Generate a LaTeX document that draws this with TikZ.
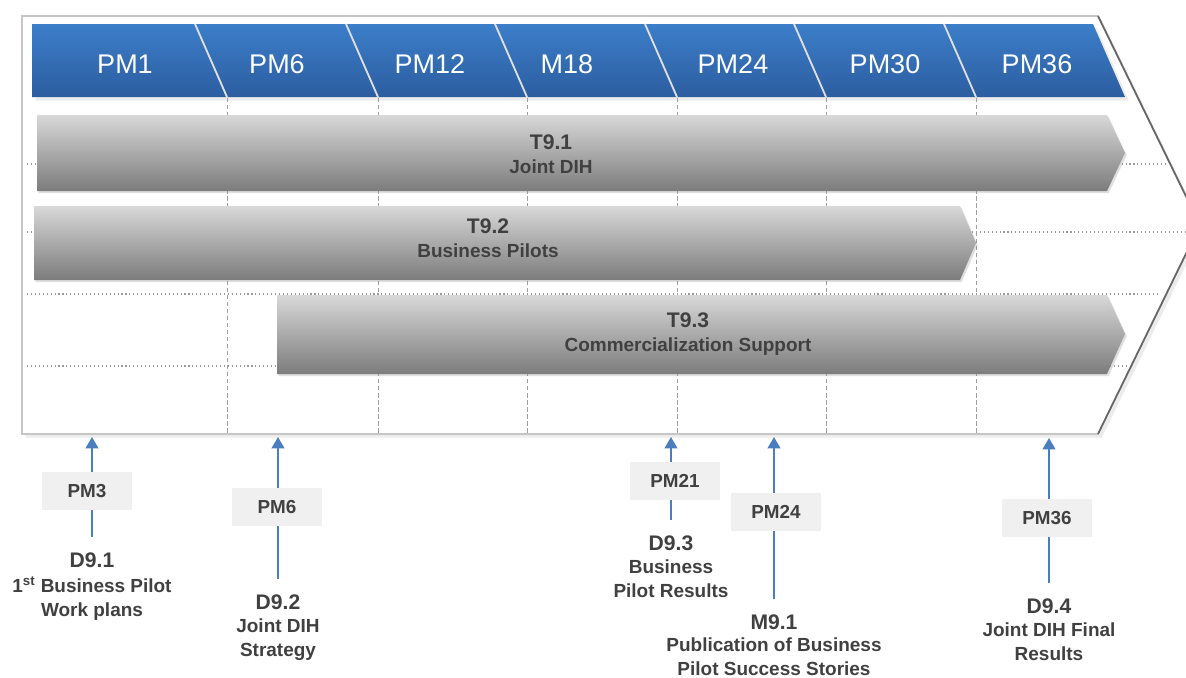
\documentclass[tikz,border=0pt]{standalone}
\usepackage{fontspec}
\setmainfont{Liberation Sans}
\usetikzlibrary{positioning,shadows,arrows.meta}

\definecolor{headtop}{RGB}{60,126,201}
\definecolor{headbot}{RGB}{44,93,160}
\definecolor{bartop}{RGB}{216,216,216}
\definecolor{barbot}{RGB}{124,124,124}
\definecolor{txtgray}{RGB}{64,64,64}
\definecolor{arrowblue}{RGB}{74,126,190}
\definecolor{boxgray}{RGB}{240,240,240}

\begin{document}
\begin{tikzpicture}[x=0.025cm,y=-0.025cm]
	\tikzset{
		myframe/.style={fill=white, draw=gray!45, line width=1.2pt},
		myhead/.style={text=white, font=\fontsize{19.2}{22}\selectfont},
		mybar/.style={top color=bartop, bottom color=barbot, drop shadow={opacity=0.25, shadow xshift=1.2pt, shadow yshift=-1.5pt}},
		mybartext/.style={align=center, text=txtgray, font=\fontsize{13.5}{17}\selectfont\bfseries},
		mybox/.style={fill=boxgray, text=txtgray, minimum width=2.25cm, minimum height=0.96cm, font=\fontsize{13.4}{16}\selectfont\bfseries},
		myid/.style={text=txtgray, inner sep=1pt, font=\fontsize{15}{18}\selectfont\bfseries},
		mydesc/.style={align=center, text=txtgray, inner sep=1pt, font=\fontsize{13.5}{17.2}\selectfont\bfseries},
		myarrow/.style={-{Triangle[width=9pt,length=8pt]}, arrowblue, line width=1.1pt, shorten <=9.5pt},
		mygrid/.style={gray!75, line width=0.6pt, dash pattern=on 3pt off 2pt},
		mydots/.style={gray!80, line width=0.8pt, dotted}
	}
	\path[use as bounding box] (0,0) rectangle (1186,678);
	\clip (0,0) rectangle (1186,678);

	\path[myframe, drop shadow={opacity=0.15}] (22,16) -- (1098,16) -- (1200,225) -- (1098,434) -- (22,434) -- cycle;
	\draw[gray!80!black, line width=1.2pt] (1098,16) -- (1200,225) -- (1098,434);

	\path[top color=headtop, bottom color=headbot, drop shadow={opacity=0.15}] (32,24) -- (1093,24) -- (1125,97) -- (32,97) -- cycle;
	\draw[gray!25, line width=1.3pt] (195,24) -- (227,97);
	\draw[gray!25, line width=1.3pt] (346,24) -- (378,97);
	\draw[gray!25, line width=1.3pt] (495,24) -- (527,97);
	\draw[gray!25, line width=1.3pt] (645,24) -- (677,97);
	\draw[gray!25, line width=1.3pt] (794,24) -- (826,97);
	\draw[gray!25, line width=1.3pt] (944,24) -- (976,97);
	\node[myhead] (h1) at (125,64) {PM1};
	\node[myhead] (h6) at (277,64) {PM6};
	\node[myhead] (h12) at (430,64) {PM12};
	\node[myhead] (h18) at (567,64) {M18};
	\node[myhead] (h24) at (733,64) {PM24};
	\node[myhead] (h30) at (885,64) {PM30};
	\node[myhead] (h36) at (1037,64) {PM36};

	\draw[mygrid] (227,98) -- (227,433);
	\draw[mygrid] (378,98) -- (378,433);
	\draw[mygrid] (527,98) -- (527,433);
	\draw[mygrid] (677,98) -- (677,433);
	\draw[mygrid] (826,98) -- (826,433);
	\draw[mygrid] (976,98) -- (976,433);
	\draw[mydots] (27,164) -- (1167,164);
	\draw[mydots] (27,232) -- (1197,232);
	\draw[mydots] (27,294) -- (1160,294);
	\draw[mydots] (27,366) -- (1127,366);

	\path[mybar] (37,115) -- (1107,115) -- (1125,153) -- (1107,191) -- (37,191) -- cycle;
	\path[mybar] (34,206) -- (960,206) -- (976,243) -- (960,280) -- (34,280) -- cycle;
	\path[mybar] (277,295) -- (1107,295) -- (1125,334) -- (1107,374) -- (277,374) -- cycle;
	\node[mybartext] (t91) at (551,154) {{\fontsize{15}{17}\selectfont T9.1}\\Joint DIH};
	\node[mybartext] (t92) at (488,238) {{\fontsize{15}{17}\selectfont T9.2}\\Business Pilots};
	\node[mybartext] (t93) at (688,334) {{\fontsize{15}{17}\selectfont T9.3}\\Commercialization Support};

	\coordinate (m1) at (92,437);
	\coordinate (m2) at (278,437);
	\coordinate (m3) at (671,437);
	\coordinate (m4) at (774,437);
	\coordinate (m5) at (1049,438);
	\node[myid] (d91) at (92,560) {D9.1};
	\node[myid] (d92) at (278,602) {D9.2};
	\node[myid] (d93) at (671,543) {D9.3};
	\node[myid] (m91) at (774,622) {M9.1};
	\node[myid] (d94) at (1049,606) {D9.4};
	\node[mydesc, below=4pt of d91] (d91t) {1\textsuperscript{st} Business Pilot\\Work plans};
	\node[mydesc, below=4pt of d92] (d92t) {Joint DIH\\Strategy};
	\node[mydesc, below=4pt of d93] (d93t) {Business\\Pilot Results};
	\node[mydesc, below=3.5pt of m91] (m91t) {Publication of Business\\Pilot Success Stories};
	\node[mydesc, below=4pt of d94] (d94t) {Joint DIH Final\\Results};

	\draw[myarrow] (d91.north) -- (m1);
	\draw[myarrow] (d92.north) -- (m2);
	\draw[myarrow] (d93.north) -- (m3);
	\draw[myarrow] (m91.north) -- (m4);
	\draw[myarrow] (d94.north) -- (m5);
	\node[mybox] (p3) at (87,491) {PM3};
	\node[mybox] (p6) at (277,507) {PM6};
	\node[mybox] (p21) at (675,481) {PM21};
	\node[mybox] (p24) at (776,512) {PM24};
	\node[mybox] (p36) at (1047,518) {PM36};
\end{tikzpicture}
\end{document}
